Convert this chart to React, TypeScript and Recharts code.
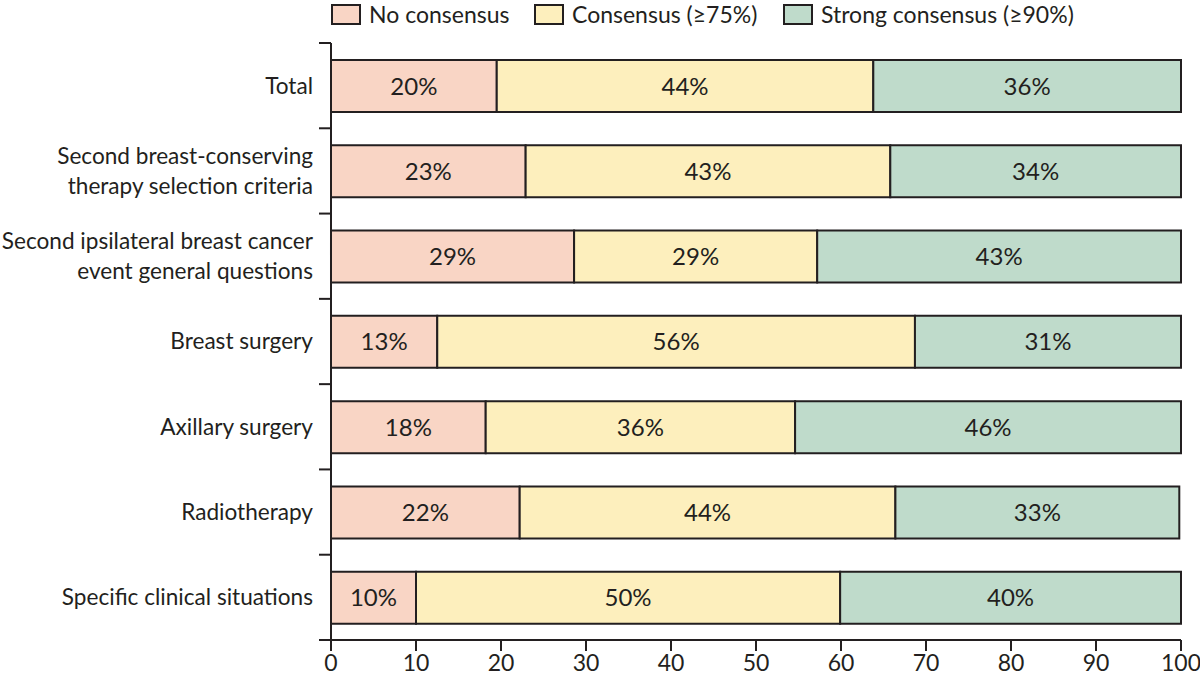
import React from 'react';
import { BarChart, Bar, XAxis, YAxis, LabelList } from 'recharts';

const categories = [
  'Total',
  'Second breast-conserving\ntherapy selection criteria',
  'Second ipsilateral breast cancer\nevent general questions',
  'Breast surgery',
  'Axillary surgery',
  'Radiotherapy',
  'Specific clinical situations',
];

// segment widths (percent of questions)
const noConsensus = [19.5, 22.9, 28.6, 12.5, 18.2, 22.2, 10.0];
const consensus = [44.3, 42.9, 28.6, 56.2, 36.4, 44.2, 49.9];
const strongConsensus = [36.2, 34.2, 42.8, 31.3, 45.4, 33.4, 40.1];

// printed percentages
const noLabels = [20, 23, 29, 13, 18, 22, 10];
const consLabels = [44, 43, 29, 56, 36, 44, 50];
const strongLabels = [36, 34, 43, 31, 46, 33, 40];

const xTicks = [0, 10, 20, 30, 40, 50, 60, 70, 80, 90, 100];

const seriesNames = ['No consensus', 'Consensus (\u226575%)', 'Strong consensus (\u226590%)'];
const seriesColors = ['#f9d5c5', '#fdefbd', '#bfdbcb'];
const legendLefts = [331, 534, 783];

const data = categories.map((c, i) => ({
  name: c,
  no: noConsensus[i],
  cons: consensus[i],
  strong: strongConsensus[i],
  noL: noLabels[i],
  consL: consLabels[i],
  strongL: strongLabels[i],
}));

const W = 1200;
const H = 678;
const MARGIN = { top: 43, right: 19, bottom: 0, left: 0 };
const Y_W = 331;
const X_H = 38;
const BAND = (H - MARGIN.top - MARGIN.bottom - X_H) / categories.length;
const INK = '#231f20';
const FONT = 'Lato, "Open Sans", sans-serif';

const CategoryTick = (props: any) => {
  const { y, payload, index } = props;
  const lines = String(payload.value).split('\n');
  const lh = 30;
  const axisX = MARGIN.left + Y_W;
  const startY = y - ((lines.length - 1) * lh) / 2;
  return (
    <g>
      <line x1={axisX - 12} x2={axisX} y1={y - BAND / 2} y2={y - BAND / 2} stroke={INK} strokeWidth={2} />
      {index === categories.length - 1 && (
        <line x1={axisX - 12} x2={axisX} y1={y + BAND / 2} y2={y + BAND / 2} stroke={INK} strokeWidth={2} />
      )}
      <text x={axisX - 18} y={startY} textAnchor="end" fill={INK} fontSize={22.6} fontFamily={FONT}>
        {lines.map((l, i) => (
          <tspan key={i} x={axisX - 18} y={startY + i * lh} dy="0.35em">
            {l}
          </tspan>
        ))}
      </text>
    </g>
  );
};

const LegendBox = () => (
  <div style={{ position: 'absolute', left: 0, top: 0, width: W, height: 32, fontFamily: FONT, fontSize: 23, color: INK }}>
    {seriesNames.map((n, i) => (
      <div
        key={n}
        style={{
          position: 'absolute',
          left: legendLefts[i],
          top: 3,
          display: 'flex',
          alignItems: 'center',
          whiteSpace: 'nowrap',
          lineHeight: '22px',
          height: 22,
        }}
      >
        <div
          style={{
            width: 26,
            height: 17,
            background: seriesColors[i],
            border: `2px solid ${INK}`,
            marginRight: 8,
          }}
        />
        <span>{n}</span>
      </div>
    ))}
  </div>
);

const pct = (v: any) => `${v}%`;

export default function App() {
  return (
    <div style={{ position: 'absolute', left: 0, top: 0, width: W, height: H, background: '#fff', overflow: 'hidden' }}>
      <LegendBox />
      <BarChart width={W} height={H} data={data} layout="vertical" margin={MARGIN} barSize={52}>
        <XAxis
          type="number"
          domain={[0, 100]}
          ticks={xTicks}
          height={X_H}
          tickSize={11}
          tickMargin={4}
          axisLine={{ stroke: INK, strokeWidth: 2 }}
          tickLine={{ stroke: INK, strokeWidth: 2 }}
          tick={{ fill: INK, fontSize: 23, fontFamily: FONT }}
          interval={0}
        />
        <YAxis
          type="category"
          dataKey="name"
          width={Y_W}
          axisLine={{ stroke: INK, strokeWidth: 2 }}
          tickLine={false}
          tick={<CategoryTick />}
          interval={0}
        />
        <Bar dataKey="no" stackId="a" fill={seriesColors[0]} stroke={INK} strokeWidth={2} isAnimationActive={false}>
          <LabelList dataKey="noL" position="center" formatter={pct} fill={INK} fontSize={24} fontFamily={FONT} />
        </Bar>
        <Bar dataKey="cons" stackId="a" fill={seriesColors[1]} stroke={INK} strokeWidth={2} isAnimationActive={false}>
          <LabelList dataKey="consL" position="center" formatter={pct} fill={INK} fontSize={24} fontFamily={FONT} />
        </Bar>
        <Bar dataKey="strong" stackId="a" fill={seriesColors[2]} stroke={INK} strokeWidth={2} isAnimationActive={false}>
          <LabelList dataKey="strongL" position="center" formatter={pct} fill={INK} fontSize={24} fontFamily={FONT} />
        </Bar>
      </BarChart>
    </div>
  );
}
